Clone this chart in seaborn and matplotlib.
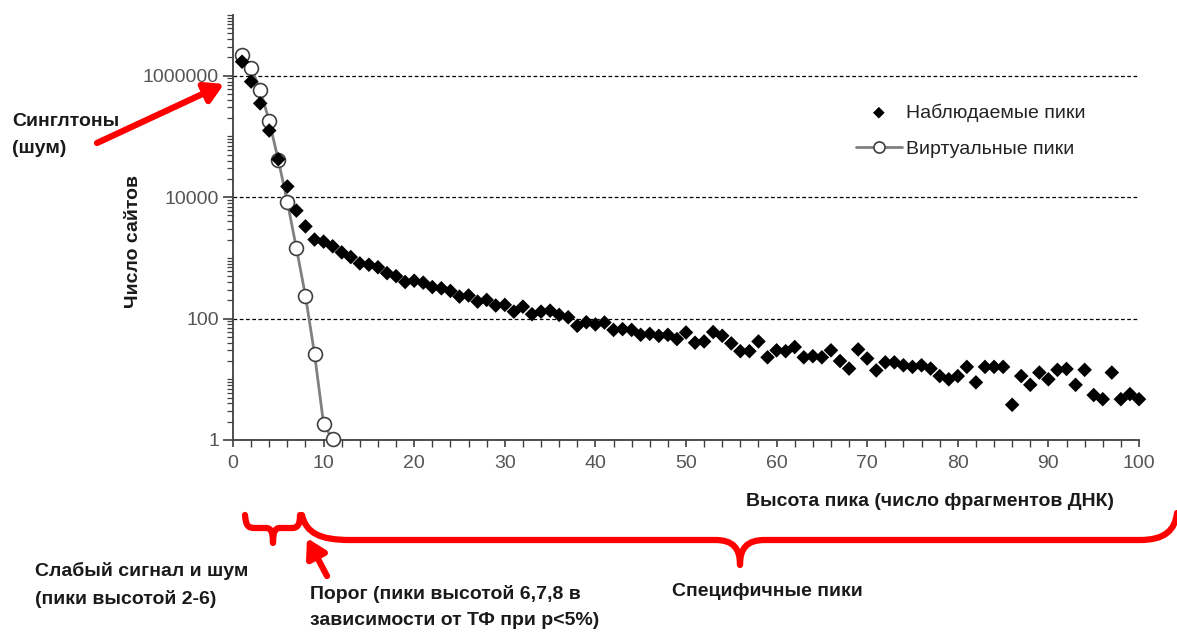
import numpy as np
import pandas as pd
import matplotlib
matplotlib.use("Agg")
import matplotlib.pyplot as plt
import seaborn as sns
from matplotlib.path import Path
from matplotlib.patches import PathPatch, FancyArrowPatch
from matplotlib.ticker import FixedLocator, LogLocator, NullFormatter, FixedFormatter, MultipleLocator

# ---------------- data ----------------
observed_heights = list(range(1, 101))
observed_counts = [
    1700000, 800000, 350000, 125000, 42000, 15000, 6000, 3300, 2000, 1850,
    1550, 1230, 1030, 810, 770, 700, 560, 500, 400, 420,
    390, 330, 315, 285, 230, 240, 190, 203, 164, 168,
    130, 157, 118, 130, 135, 115, 105, 76, 87, 80,
    86, 65, 67, 65, 54, 56, 52, 54, 46, 59,
    40, 42, 60, 52, 39, 29, 29, 42, 23, 30,
    29, 34, 23, 24, 23, 30, 20, 15, 31, 22,
    14, 19, 19, 17, 16, 17, 15, 11.3, 10, 11.3,
    16, 8.9, 16, 16, 16, 3.8, 11.3, 8.1, 12.9, 10,
    14.3, 14.8, 8.1, 14.3, 5.5, 4.7, 12.9, 4.7, 5.7, 4.7,
]
virtual_heights = list(range(1, 12))
virtual_counts = [2160000, 1340000, 590000, 177000, 41000, 8300, 1440, 236, 26, 1.84, 1.02]

series_labels = ["Наблюдаемые пики", "Виртуальные пики"]
y_tick_values = [1, 100, 10000, 1000000]
y_tick_labels = ["1", "100", "10000", "1000000"]
x_tick_values = [0, 10, 20, 30, 40, 50, 60, 70, 80, 90, 100]
x_label = "Высота пика (число фрагментов ДНК)"
y_label = "Число сайтов"
note_singletons = "Синглтоны\n(шум)"
note_weak = "Слабый сигнал и шум\n(пики высотой 2-6)"
note_threshold = "Порог (пики высотой 6,7,8 в\nзависимости от ТФ при p<5%)"
note_specific = "Специфичные пики"

obs_df = pd.DataFrame({"height": observed_heights, "count": observed_counts})
virt_df = pd.DataFrame({"height": virtual_heights, "count": virtual_counts})

# ---------------- style ----------------
sns.set_style("white")
plt.rcParams["font.family"] = ["Liberation Sans", "DejaVu Sans"]

W, H = 1177, 632
fig = plt.figure(figsize=(W / 100, H / 100), dpi=100)
ax = fig.add_axes([233 / W, 1 - 440 / H, (1139 - 233) / W, (440 - 15) / H])

sns.lineplot(data=virt_df, x="height", y="count", ax=ax, color="#808080", lw=2,
             marker="o", markersize=10, markerfacecolor="white",
             markeredgecolor="#404040", markeredgewidth=1.2,
             label=series_labels[1], clip_on=False, zorder=3)
sns.scatterplot(data=obs_df, x="height", y="count", ax=ax, marker="D", s=55,
                color="black", edgecolor="none", label=series_labels[0],
                clip_on=False, zorder=4)

ax.set_yscale("log")
ax.set_xlim(0, 100)
ax.set_ylim(1, 1e7)

ax.yaxis.set_major_locator(FixedLocator(y_tick_values))
ax.yaxis.set_major_formatter(FixedFormatter(y_tick_labels))
ax.yaxis.set_minor_locator(LogLocator(base=10, subs=np.arange(1, 10) * 1.0, numticks=100))
ax.yaxis.set_minor_formatter(NullFormatter())
ax.xaxis.set_major_locator(FixedLocator(x_tick_values))
ax.xaxis.set_minor_locator(MultipleLocator(2))

ax.tick_params(axis="both", which="both", direction="out", color="#404040",
               labelcolor="#555555", labelsize=14, bottom=True, left=True)
ax.tick_params(axis="y", which="major", length=7, width=1.2, pad=3)
ax.tick_params(axis="y", which="minor", length=4.5, width=0.9)
ax.tick_params(axis="x", which="major", length=5, width=1.2, pad=6)
ax.tick_params(axis="x", which="minor", length=5, width=1.0)

ax.yaxis.grid(True, which="major", linestyle=(0, (3, 2)), color="black", lw=0.9)
ax.yaxis.grid(False, which="minor")
ax.xaxis.grid(False, which="both")
for s in ["top", "right"]:
    ax.spines[s].set_visible(False)
for s in ["left", "bottom"]:
    ax.spines[s].set_color("#404040")
    ax.spines[s].set_linewidth(1.3)

ax.set_ylabel(y_label, fontsize=14, fontweight="bold", color="#1a1a1a")
ax.yaxis.set_label_coords((142 - 233) / 906, (440 - 242) / 425)
ax.set_xlabel(x_label, fontsize=14, fontweight="bold", color="#1a1a1a")
ax.xaxis.set_label_coords((930 - 233) / 906, (440 - 493) / 425)

# legend
handles, labels = ax.get_legend_handles_labels()
order = [labels.index(series_labels[0]), labels.index(series_labels[1])]
leg = ax.legend([handles[i] for i in order], [labels[i] for i in order],
                loc="upper left", bbox_to_anchor=(838 / W, 1 - 86 / H),
                bbox_transform=fig.transFigure, frameon=False, fontsize=14,
                handlelength=2.4, handletextpad=0.2, labelspacing=0.95,
                markerscale=0.8)
for t in leg.get_texts():
    t.set_color("#222222")

# ---------------- annotations (figure pixel coords) ----------------
def fx(px):
    return px / W

def fy(py):
    return 1 - py / H

RED = "#ff0000"

def brace(points_codes):
    verts = [(fx(x), fy(y)) for (x, y), _ in points_codes]
    codes = [c for _, c in points_codes]
    p = PathPatch(Path(verts, codes), transform=fig.transFigure, fill=False,
                  edgecolor=RED, lw=4.5, capstyle="round", joinstyle="round")
    fig.patches.append(p)

M, L, C = Path.MOVETO, Path.LINETO, Path.CURVE4
brace([
    ((245, 515), M),
    ((246, 526), C), ((248, 528), C), ((255, 528), C),
    ((266, 528), L),
    ((271, 528), C), ((273, 532), C), ((273, 543), C),
    ((273, 532), C), ((275, 528), C), ((280, 528), C),
    ((292, 528), L),
    ((298, 528), C), ((300, 524), C), ((300, 515), C),
])
brace([
    ((302, 515), M),
    ((306, 533), C), ((320, 540), C), ((350, 540), C),
    ((715, 540), L),
    ((733, 540), C), ((740, 548), C), ((740, 565), C),
    ((740, 548), C), ((747, 540), C), ((765, 540), C),
    ((1140, 540), L),
    ((1165, 540), C), ((1175, 530), C), ((1177, 513), C),
])

for (x0, y0), (x1, y1) in [((97, 143), (224, 84)), ((327, 576), (307, 538))]:
    a = FancyArrowPatch((fx(x0), fy(y0)), (fx(x1), fy(y1)),
                        transform=fig.transFigure,
                        arrowstyle="-|>,head_length=0.55,head_width=0.32",
                        mutation_scale=20, color=RED, lw=4.5, shrinkA=0, shrinkB=0)
    fig.patches.append(a)

txt_kw = dict(fontsize=14, fontweight="bold", color="#1a1a1a", ha="left",
              va="center", linespacing=1.75)
fig.text(fx(12), fy(135), note_singletons, **txt_kw)
fig.text(fx(35), fy(585), note_weak, **txt_kw)
fig.text(fx(310), fy(607), note_threshold, **txt_kw)
fig.text(fx(672), fy(592), note_specific, **txt_kw)

fig.savefig("out.png", dpi=100)
